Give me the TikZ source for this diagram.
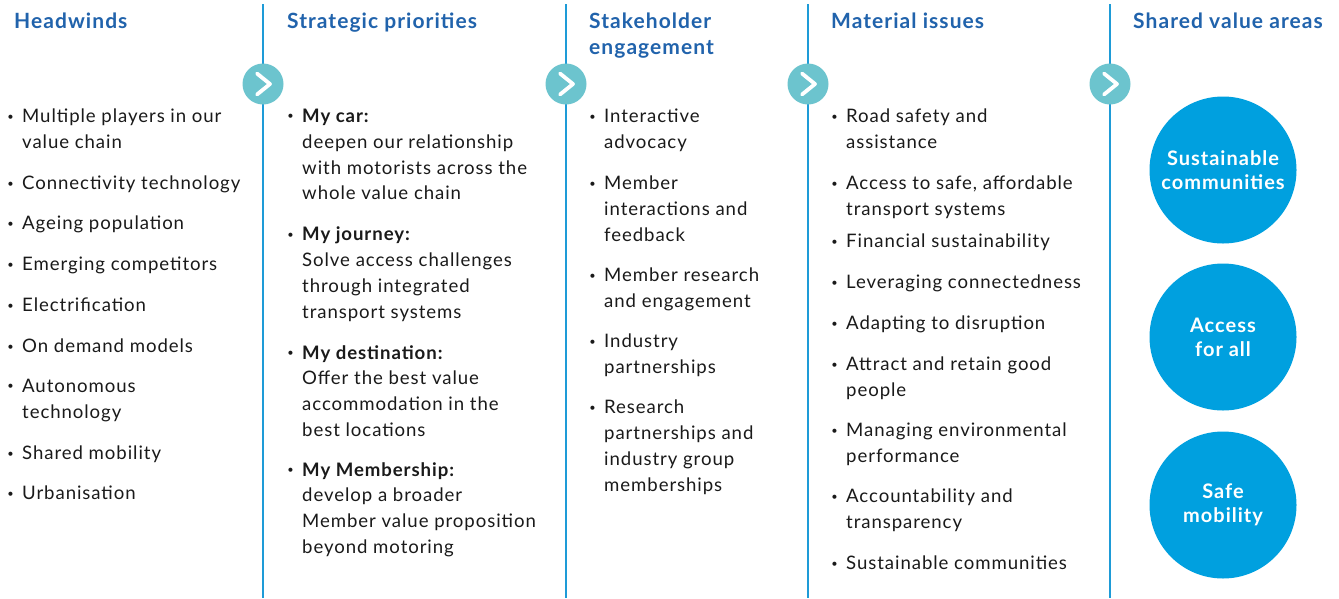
\documentclass[tikz,border=0pt]{standalone}
\usepackage{fontspec}
\setmainfont{Lato}[LetterSpace=5]
\usepackage{tikz}
\usetikzlibrary{calc,positioning}
\definecolor{headblue}{RGB}{33,99,172}
\definecolor{lineblue}{RGB}{30,155,215}
\definecolor{arrteal}{RGB}{108,196,206}
\definecolor{areablue}{RGB}{0,160,223}
\definecolor{txtgrey}{RGB}{26,26,26}
\newcommand{\bul}{\llap{\raisebox{0.3ex}{\fontsize{11}{11}\selectfont\textbullet}\hspace{8.5pt}}}

\begin{document}
\begin{tikzpicture}[x=1pt,y=-1pt,
  hd/.style={anchor=north west,align=left,inner sep=0pt,text=headblue,font=\fontsize{21}{26}\selectfont\bfseries},
  itm/.style={anchor=north west,align=left,inner sep=0pt,text=txtgrey,font=\fontsize{18.6}{25.7}\selectfont},
  sep/.style={draw=lineblue,line width=2.6pt},
  arr/.style={fill=arrteal,circle,minimum size=41pt,inner sep=0pt},
  chev/.style={draw=white,line width=3.8pt,line cap=round,line join=round},
  area/.style={fill=areablue,circle,minimum size=147pt,inner sep=0pt,align=center,text=white,font=\fontsize{20}{24}\selectfont\bfseries}]
  \useasboundingbox[fill=white] (0,0) rectangle (1339,598);

  \coordinate (s1t) at (263,4);  \coordinate (s1b) at (263,598);
  \coordinate (s2t) at (566,4);  \coordinate (s2b) at (566,598);
  \coordinate (s3t) at (808,4);  \coordinate (s3b) at (808,598);
  \coordinate (s4t) at (1110,4); \coordinate (s4b) at (1110,598);
  \draw[sep] (s1t) -- (s1b);
  \draw[sep] (s2t) -- (s2b);
  \draw[sep] (s3t) -- (s3b);
  \draw[sep] (s4t) -- (s4b);

  \node[arr] (a1) at (263,84) {};
  \node[arr] (a2) at (566,84) {};
  \node[arr] (a3) at (808,84) {};
  \node[arr] (a4) at (1110,84) {};
  \foreach \a in {a1,a2,a3,a4}
    \draw[chev] ([shift={(-6,-10.5)}]\a.center) -- ([shift={(7,0)}]\a.center) -- ([shift={(-6,10.5)}]\a.center);

  \node[hd] (h1) at (14,13) {Headwinds};
  \node[hd] (h2) at (287,13) {Strategic priorities};
  \node[hd] (h3) at (589,13) {Stakeholder\\engagement};
  \node[hd] (h4) at (831,13) {Material issues};
  \node[hd] (h5) at (1133,13) {Shared value areas};

  \node[itm] (w1) at (22,109) {\bul Multiple players in our\\value chain};
  \node[itm] (w2) at (22,176) {\bul Connectivity technology};
  \node[itm] (w3) at (22,216) {\bul Ageing population};
  \node[itm] (w4) at (22,257) {\bul Emerging competitors};
  \node[itm] (w5) at (22,298) {\bul Electrification};
  \node[itm] (w6) at (22,339) {\bul On demand models};
  \node[itm] (w7) at (22,379) {\bul Autonomous\\technology};
  \node[itm] (w8) at (22,446) {\bul Shared mobility};
  \node[itm] (w9) at (22,486) {\bul Urbanisation};

  \node[itm] (p1) at (302,109) {\bul\textbf{My car:}\\deepen our relationship\\with motorists across the\\whole value chain};
  \node[itm] (p2) at (302,227) {\bul\textbf{My journey:}\\Solve access challenges\\through integrated\\transport systems};
  \node[itm] (p3) at (302,345) {\bul\textbf{My destination:}\\Offer the best value\\accommodation in the\\best locations};
  \node[itm] (p4) at (302,462) {\bul\textbf{My Membership:}\\develop a broader\\Member value proposition\\beyond motoring};

  \node[itm] (e1) at (604,109) {\bul Interactive\\advocacy};
  \node[itm] (e2) at (604,176) {\bul Member\\interactions and\\feedback};
  \node[itm] (e3) at (604,268) {\bul Member research\\and engagement};
  \node[itm] (e4) at (604,334) {\bul Industry\\partnerships};
  \node[itm] (e5) at (604,400) {\bul Research\\partnerships and\\industry group\\memberships};

  \node[itm] (m1) at (846,109) {\bul Road safety and\\assistance};
  \node[itm] (m2) at (846,176) {\bul Access to safe, affordable\\transport systems};
  \node[itm] (m3) at (846,234) {\bul Financial sustainability};
  \node[itm] (m4) at (846,275) {\bul Leveraging connectedness};
  \node[itm] (m5) at (846,316) {\bul Adapting to disruption};
  \node[itm] (m6) at (846,357) {\bul Attract and retain good\\people};
  \node[itm] (m7) at (846,423) {\bul Managing environmental\\performance};
  \node[itm] (m8) at (846,489) {\bul Accountability and\\transparency};
  \node[itm] (m9) at (846,556) {\bul Sustainable communities};

  \node[area] (v1) at (1223,170) {Sustainable\\communities};
  \node[area] (v2) at (1223,337) {Access\\for all};
  \node[area] (v3) at (1223,505) {Safe\\mobility};
\end{tikzpicture}
\end{document}
